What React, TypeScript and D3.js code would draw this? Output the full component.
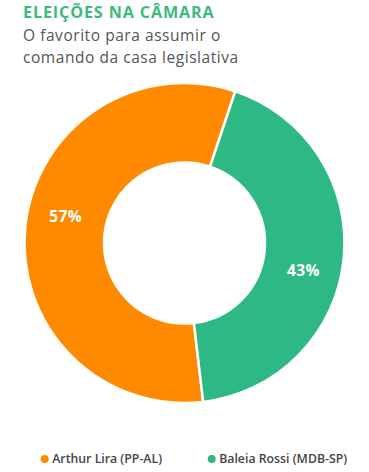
import * as d3 from "d3";

const candidates = ["Arthur Lira (PP-AL)", "Baleia Rossi (MDB-SP)"];
const shares = [57, 43];
const colors = ["#FF8A00", "#2EB984"];
const titleLines = ["O favorito para assumir o", "comando da casa legislativa"];

export default function App() {
  const width = 369;
  const height = 472;
  const cx = 184.5;
  const cy = 243;
  const outerR = 160;
  const innerR = 80.5;

  const data = candidates.map((name, i) => ({ name, value: shares[i], color: colors[i] }));

  // orange starts at ~173°, green ends up on the right from ~18°
  const startDeg = 173.3;
  const pie = d3
    .pie<{ name: string; value: number; color: string }>()
    .value((d) => d.value)
    .sort(null)
    .startAngle((startDeg * Math.PI) / 180)
    .endAngle(((startDeg + 360) * Math.PI) / 180);

  const arcs = pie(data);
  const arc = d3
    .arc<d3.PieArcDatum<{ name: string; value: number; color: string }>>()
    .innerRadius(innerR)
    .outerRadius(outerR);

  const labelR = 122;
  const labelShift = (7 * Math.PI) / 180;

  const legendX = d3.scaleOrdinal<string, number>().domain(candidates).range([44.7, 211.7]);

  return (
    <svg
      width={width}
      height={height}
      style={{ position: "absolute", left: 0, top: 0, background: "#fff" }}
      fontFamily="'Open Sans', sans-serif"
    >
      <text x={23} y={17.5} fontSize={16.2} fontWeight={700} fill="#3DBA7D" letterSpacing={0.85}>
        ELEIÇÕES NA CÂMARA
      </text>
      {titleLines.map((t, i) => (
        <text key={i} x={23} y={41 + i * 22} fontSize={15.5} fill="#555" letterSpacing={0.55}>
          {t}
        </text>
      ))}
      <g transform={`translate(${cx},${cy})`}>
        {arcs.map((a, i) => (
          <path key={i} d={arc(a) ?? ""} fill={a.data.color} stroke="#fff" strokeWidth={2.5} />
        ))}
        {arcs.map((a, i) => {
          const mid = (a.startAngle + a.endAngle) / 2 + labelShift;
          return (
            <text
              key={i}
              x={labelR * Math.sin(mid)}
              y={-labelR * Math.cos(mid)}
              textAnchor="middle"
              dominantBaseline="central"
              fontSize={15.5}
              fontWeight={700}
              fill="#fff"
              letterSpacing={0.3}
            >
              {a.data.value}%
            </text>
          );
        })}
      </g>
      {data.map((d, i) => (
        <g key={i} transform={`translate(${legendX(d.name)},459)`}>
          <circle r={4} fill={d.color} />
          <text x={7.5} y={4.3} fontSize={12.3} fontWeight={600} fill="#444">
            {d.name}
          </text>
        </g>
      ))}
    </svg>
  );
}
